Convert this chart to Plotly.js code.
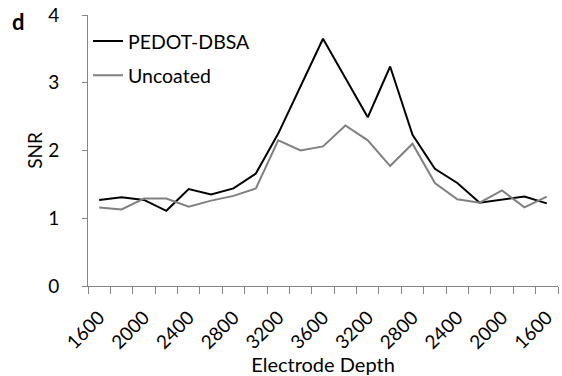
<!DOCTYPE html>
<html>
<head>
<meta charset="utf-8">
<script src="https://cdn.plot.ly/plotly-3.0.1.min.js"></script>
<style>html,body{margin:0;padding:0;background:#fff;}#chart{width:562px;height:376px;}</style>
</head>
<body>
<div id="chart"></div>
<script>
const depths = [1600,1800,2000,2200,2400,2600,2800,3000,3200,3400,3600,3400,3200,3000,2800,2600,2400,2200,2000,1800,1600];
const pedot = [1.27,1.31,1.27,1.11,1.43,1.35,1.44,1.66,2.25,2.95,3.65,3.07,2.49,3.24,2.23,1.73,1.52,1.23,1.27,1.32,1.22];
const uncoated = [1.16,1.13,1.29,1.29,1.17,1.26,1.33,1.44,2.15,2.00,2.06,2.37,2.15,1.77,2.10,1.52,1.28,1.23,1.41,1.16,1.32];
const seriesNames = ["PEDOT-DBSA","Uncoated"];
const yTicks = [0,1,2,3,4];

const idx = depths.map((d,i)=>i);
const labelIdx = idx.filter(i=>i%2===0);
const labelText = labelIdx.map(i=>String(depths[i]));
const boundaries = depths.map((d,i)=>i-0.5).concat([depths.length-0.5]);

const FONT = "Lato, 'Open Sans', sans-serif";
const traces = [
  {x: idx, y: pedot, type:'scatter', mode:'lines', name: seriesNames[0], legendgroup:'a',
   line:{color:'#000000', width:2}},
  {x: idx, y: uncoated, type:'scatter', mode:'lines', name: seriesNames[1], legendgroup:'b',
   line:{color:'#808080', width:2}},
  {x: [idx[0]], y:[null], xaxis:'x2', type:'scatter', mode:'lines', showlegend:false, hoverinfo:'skip'}
];
const range = [-0.5, depths.length-0.5];
const layout = {
  width:562, height:376,
  margin:{l:88, r:4, t:15, b:90},
  paper_bgcolor:'#ffffff', plot_bgcolor:'#ffffff',
  font:{family:FONT, size:18, color:'#000000'},
  showlegend:true,
  legend:{x:0, y:0.975, xanchor:'left', yanchor:'top', bgcolor:'rgba(0,0,0,0)',
          font:{family:FONT, size:19.5, color:'#000'}, tracegroupgap:6, itemwidth:30},
  xaxis:{range:range, tickmode:'array', tickvals:labelIdx, ticktext:labelText,
         tickangle:-45, ticklen:0, showgrid:false, zeroline:false, ticklabelstandoff:12,
         showline:true, linecolor:'#868686', linewidth:1,
         tickfont:{family:FONT, size:19, color:'#000'},
         title:{text:'Electrode Depth', font:{family:FONT, size:20, color:'#000'}, standoff:0}},
  xaxis2:{overlaying:'x', range:range, tickmode:'array', tickvals:boundaries,
          ticktext:boundaries.map(()=>''), ticks:'outside', ticklen:7, tickcolor:'#868686',
          showgrid:false, zeroline:false, showline:false, side:'bottom', anchor:'y'},
  yaxis:{range:[0,4], tickmode:'array', tickvals:yTicks, ticks:'outside', ticklen:5,
         tickcolor:'#868686', showgrid:false, zeroline:false, showline:true,
         linecolor:'#868686', linewidth:1, ticklabelstandoff:19,
         tickfont:{family:FONT, size:19, color:'#000'},
         title:{text:'SNR', font:{family:FONT, size:19, color:'#000'}, standoff:0}},
  annotations:[{text:'<b>d</b>', xref:'paper', yref:'paper', x:-0.165, y:0.976, xanchor:'left', yanchor:'middle',
                showarrow:false, font:{family:FONT, size:22, color:'#000'}}]
};
Plotly.newPlot('chart', traces, layout, {staticPlot:true, displayModeBar:false});
</script>
</body>
</html>
